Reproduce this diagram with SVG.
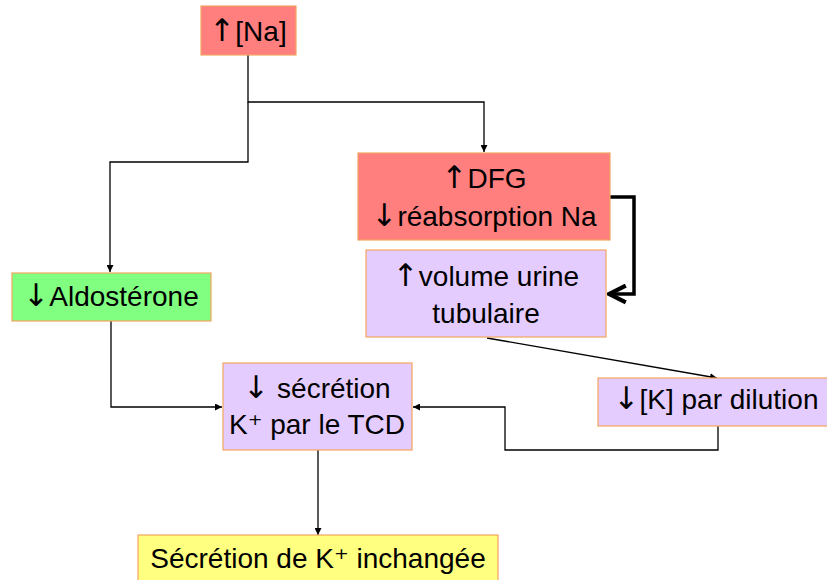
<svg xmlns="http://www.w3.org/2000/svg" width="827" height="580" viewBox="0 0 827 580">
<style>
.box{stroke:#F4A460;stroke-width:1.2}
.red{fill:#FF7F7F}
.green{fill:#80FF80}
.purple{fill:#E5CCFF}
.yellow{fill:#FFFF80}
.t{font-family:"Liberation Sans","DejaVu Sans",sans-serif;font-size:28px;fill:#000;text-anchor:middle}
.ar{font-family:"DejaVu Sans",sans-serif;font-size:31px}
.c{fill:none;stroke:#000;stroke-width:1.3}
.thick{fill:none;stroke:#000;stroke-width:3.5}
</style>
<defs>
<marker id="ah" viewBox="0 0 10 10" refX="10" refY="5" markerWidth="7" markerHeight="7" markerUnits="userSpaceOnUse" orient="auto">
<path d="M0,0 L10,5 L0,10 z" fill="#000"/>
</marker>
<marker id="open" viewBox="0 0 10 10" refX="9" refY="5" markerWidth="6" markerHeight="6" orient="auto">
<path d="M1,1 L9,5 L1,9" fill="none" stroke="#000" stroke-width="2"/>
</marker>
</defs>
<g id="connectors">
<polyline class="c" points="248,55 248,102 484,102 484,152" marker-end="url(#ah)"/>
<polyline class="c" points="248,102 248,162 110,162 110,272" marker-end="url(#ah)"/>
<polyline class="thick" points="610,197 634,197 634,294 609,294" marker-end="url(#open)"/>
<line class="c" x1="487" y1="338" x2="717" y2="378" marker-end="url(#ah)"/>
<polyline class="c" points="111,321 111,407 222,407" marker-end="url(#ah)"/>
<polyline class="c" points="718,426 718,450 505,450 505,407 413,407" marker-end="url(#ah)"/>
<line class="c" x1="318" y1="450" x2="318" y2="535" marker-end="url(#ah)"/>
</g>
<g id="na">
<rect class="box red" x="201" y="6" width="95" height="49"/>
<text class="t" x="248" y="41"><tspan class="ar">↑</tspan>[Na]</text>
</g>
<g id="dfg">
<rect class="box red" x="358" y="153" width="252" height="87"/>
<text class="t" x="484" y="188"><tspan class="ar">↑</tspan>DFG</text>
<text class="t" x="484" y="226"><tspan class="ar">↓</tspan>réabsorption Na</text>
</g>
<g id="volume">
<rect class="box purple" x="366" y="250" width="240" height="87"/>
<text class="t" x="486" y="286"><tspan class="ar">↑</tspan>volume urine</text>
<text class="t" x="486" y="323">tubulaire</text>
</g>
<g id="aldosterone">
<rect class="box green" x="12" y="273" width="199" height="48"/>
<text class="t" x="111" y="306"><tspan class="ar">↓</tspan>Aldostérone</text>
</g>
<g id="secretion">
<rect class="box purple" x="223" y="363" width="189" height="87"/>
<text class="t" x="317" y="398"><tspan class="ar">↓</tspan> sécrétion</text>
<text class="t" x="317" y="434">K⁺ par le TCD</text>
</g>
<g id="dilution">
<rect class="box purple" x="598" y="378" width="232" height="48"/>
<text class="t" x="716" y="409"><tspan class="ar">↓</tspan>[K] par dilution</text>
</g>
<g id="inchangee">
<rect class="box yellow" x="138" y="535" width="360" height="50"/>
<text class="t" x="318" y="568">Sécrétion de K⁺ inchangée</text>
</g>
</svg>
